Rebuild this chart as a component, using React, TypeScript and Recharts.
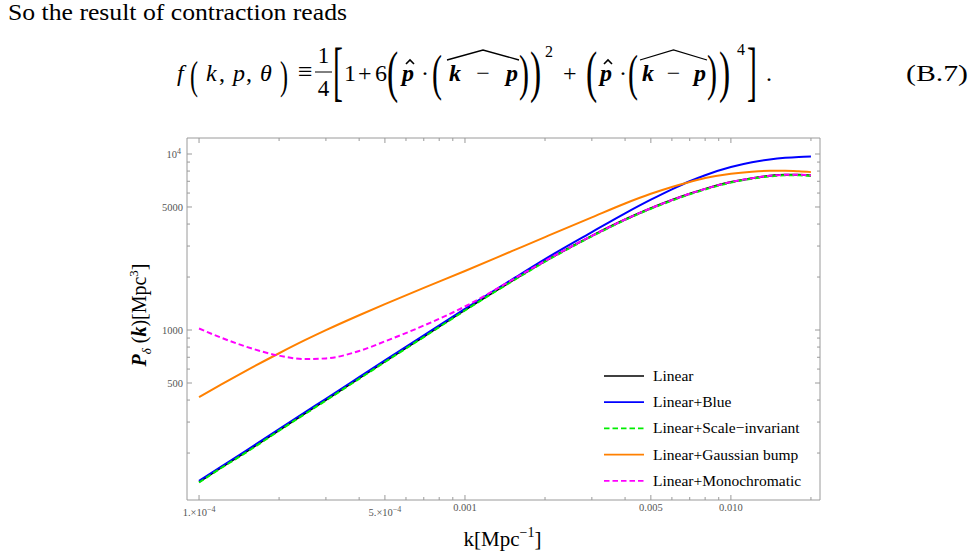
import React from 'react';
import { LineChart, Line, XAxis, YAxis, Legend } from 'recharts';

// Wavenumbers k [Mpc^-1] at which the spectra are sampled
const kValues = [
  1e-4, 1.2e-4, 1.5e-4, 2e-4, 2.5e-4, 3e-4, 4e-4, 5e-4, 7e-4, 1e-3, 1.5e-3, 2e-3,
  3e-3, 4e-3, 5e-3, 6e-3, 7e-3, 8e-3, 1e-2, 1.2e-2, 1.4e-2, 1.6e-2, 1.8e-2, 2e-2,
];

// Power spectra P_delta(k) [Mpc^3]
const linearP = [
  137, 164, 203, 270, 336, 401, 532, 663, 918, 1300, 1900, 2460,
  3430, 4245, 4920, 5475, 5945, 6335, 6930, 7290, 7520, 7620, 7620, 7560,
];
const blueP = [
  139, 166, 206, 274, 341, 407, 540, 673, 932, 1320, 1935, 2530,
  3600, 4600, 5500, 6300, 7000, 7580, 8430, 8980, 9320, 9520, 9630, 9680,
];
const scaleInvariantP = [
  136, 163, 201, 268, 333, 398, 528, 658, 912, 1291, 1887, 2443,
  3407, 4216, 4886, 5437, 5904, 6291, 6882, 7240, 7468, 7567, 7567, 7507,
];
const gaussianBumpP = [
  416, 486, 586, 738, 875, 998, 1213, 1403, 1734, 2163, 2805, 3373,
  4368, 5236, 5943, 6500, 6940, 7300, 7730, 7940, 8030, 8040, 7980, 7890,
];
const monochromaticP = [
  1020, 910, 805, 715, 684, 690, 760, 862, 1060, 1360, 1920, 2470,
  3430, 4245, 4920, 5475, 5945, 6335, 6930, 7290, 7520, 7620, 7620, 7560,
];

// Axis ticks
const xTicks = [
  1e-4, 2e-4, 3e-4, 4e-4, 5e-4, 6e-4, 7e-4, 8e-4, 9e-4,
  1e-3, 2e-3, 3e-3, 4e-3, 5e-3, 6e-3, 7e-3, 8e-3, 9e-3, 1e-2, 2e-2,
];
const xMajor = [1e-4, 5e-4, 1e-3, 5e-3, 1e-2];
const xMajorLabels = ['1.\u00d710', '5.\u00d710', '0.001', '0.005', '0.010'];
const xMajorExponents = ['\u22124', '\u22124', '', '', ''];

const yTicks = [
  200, 300, 400, 500, 600, 700, 800, 900, 1000,
  2000, 3000, 4000, 5000, 6000, 7000, 8000, 9000, 10000,
];
const yMajor = [500, 1000, 5000, 10000];
const yMajorLabels = ['500', '1000', '5000', '10'];
const yMajorExponents = ['', '', '', '4'];

const series = [
  { key: 'linear', name: 'Linear', color: '#000000', dash: undefined },
  { key: 'blue', name: 'Linear+Blue', color: '#0000ff', dash: undefined },
  { key: 'scaleInvariant', name: 'Linear+Scale\u2212invariant', color: '#00ee00', dash: '5.5 3' },
  { key: 'gaussianBump', name: 'Linear+Gaussian bump', color: '#ff8000', dash: undefined },
  { key: 'monochromatic', name: 'Linear+Monochromatic', color: '#ff00ff', dash: '5.5 3' },
];

const data = kValues.map((k, i) => ({
  k,
  linear: linearP[i],
  blue: blueP[i],
  scaleInvariant: scaleInvariantP[i],
  gaussianBump: gaussianBumpP[i],
  monochromatic: monochromaticP[i],
}));

const xDomain = [9.01e-5, 0.02163];
const yDomain = [108.2, 12330];

const FRAME = '#9a9a9a';
const TICK_TEXT = '#555555';
const SERIF = "'Liberation Serif', 'Times New Roman', serif";

const findMajor = (v: number, list: number[]) =>
  list.findIndex((t) => Math.abs(Math.log10(v) - Math.log10(t)) < 1e-6);

const BottomTick = (props: any) => {
  const { x, y, payload } = props;
  const idx = findMajor(payload.value, xMajor);
  const len = idx >= 0 ? 5 : 3;
  return (
    <g>
      <line x1={x} x2={x} y1={y} y2={y - len} stroke={FRAME} strokeWidth={1} />
      {idx >= 0 && (
        <text
          x={x}
          y={xMajorExponents[idx] ? y + 16 : y + 11}
          textAnchor="middle"
          fontSize={10.5}
          fontFamily={SERIF}
          fill={TICK_TEXT}
        >
          {xMajorLabels[idx]}
          {xMajorExponents[idx] && (
            <tspan dy={-4.5} fontSize={8}>
              {xMajorExponents[idx]}
            </tspan>
          )}
        </text>
      )}
    </g>
  );
};

const TopTick = (props: any) => {
  const { x, y, payload } = props;
  const idx = findMajor(payload.value, xMajor);
  const len = idx >= 0 ? 5 : 3;
  return <line x1={x} x2={x} y1={y} y2={y + len} stroke={FRAME} strokeWidth={1} />;
};

const LeftTick = (props: any) => {
  const { x, y, payload } = props;
  const idx = findMajor(payload.value, yMajor);
  const len = idx >= 0 ? 5 : 3;
  return (
    <g>
      <line x1={x} x2={x + len} y1={y} y2={y} stroke={FRAME} strokeWidth={1} />
      {idx >= 0 && (
        <text
          x={yMajorExponents[idx] ? x - 10 : x - 4}
          y={y + 4}
          textAnchor="end"
          fontSize={10.5}
          fontFamily={SERIF}
          fill={TICK_TEXT}
        >
          {yMajorLabels[idx]}
        </text>
      )}
      {idx >= 0 && yMajorExponents[idx] && (
        <text x={x - 10} y={y} textAnchor="start" fontSize={8} fontFamily={SERIF} fill={TICK_TEXT}>
          {yMajorExponents[idx]}
        </text>
      )}
    </g>
  );
};

const RightTick = (props: any) => {
  const { x, y, payload } = props;
  const idx = findMajor(payload.value, yMajor);
  const len = idx >= 0 ? 5 : 3;
  return <line x1={x} x2={x - len} y1={y} y2={y} stroke={FRAME} strokeWidth={1} />;
};

const YTitle = (props: any) => {
  const { viewBox } = props;
  const cx = viewBox.x + 19;
  const cy = viewBox.y + viewBox.height / 2 - 4;
  return (
    <text
      x={cx}
      y={cy}
      transform={`rotate(-90 ${cx} ${cy})`}
      textAnchor="middle"
      fontSize={20}
      fontFamily={SERIF}
      fill="#000"
    >
      <tspan fontWeight="bold" fontStyle="italic">P</tspan>
      <tspan fontStyle="italic" fontSize={13} dy={5}>{'\u03b4'}</tspan>
      <tspan dy={-5}>{' ('}</tspan>
      <tspan fontStyle="italic" fontWeight="bold">k</tspan>
      <tspan>)[Mpc</tspan>
      <tspan fontSize={13} dy={-8}>3</tspan>
      <tspan dy={8}>]</tspan>
    </text>
  );
};

const XTitle = (props: any) => {
  const { viewBox } = props;
  const cx = viewBox.x + viewBox.width / 2 - 1;
  return (
    <text x={cx} y={viewBox.y + 46} textAnchor="middle" fontSize={21} fontFamily={SERIF} fill="#000">
      k[Mpc
      <tspan fontSize={14} dy={-9}>{'\u22121'}</tspan>
      <tspan dy={9}>]</tspan>
    </text>
  );
};

const LegendBox = () => (
  <svg width={220} height={132}>
    {series.map((s, i) => {
      const cy = 13 + i * 26.2;
      return (
        <g key={s.key}>
          <line x1={4} x2={44} y1={cy} y2={cy} stroke={s.color} strokeWidth={1.7} strokeDasharray={s.dash} />
          <text x={53} y={cy + 5} fontSize={15.5} fontFamily={SERIF} fill="#000">
            {s.name}
          </text>
        </g>
      );
    })}
  </svg>
);

const EQ = 24;

const Glyph = ({ x, y, children, italic, bold, size = EQ, anchor }: any) => (
  <text
    x={x}
    y={y}
    fontSize={size}
    fontFamily={SERIF}
    fontStyle={italic ? 'italic' : undefined}
    fontWeight={bold ? 'bold' : undefined}
    textAnchor={anchor}
    fill="#000"
  >
    {children}
  </text>
);

// Tall delimiter, narrowed horizontally so it keeps a TeX-like width
const Delim = ({ ch, x, y, size, sx = 0.6 }: any) => (
  <text x={0} y={0} transform={`translate(${x} ${y}) scale(${sx} 1)`} fontSize={size} fontFamily={SERIF} fill="#000">
    {ch}
  </text>
);

const Header = () => {
  const B = 81;
  const pHat = (x: number) => (
    <g>
      <Glyph x={x} y={B} italic bold>p</Glyph>
      <path
        d={`M ${x + 4} ${B - 17} L ${x + 8} ${B - 21} L ${x + 12} ${B - 17}`}
        stroke="#000"
        strokeWidth={1.6}
        fill="none"
      />
    </g>
  );
  const kMinusP = (x: number, w: number) => (
    <g>
      <path
        d={`M ${x} ${B - 21} L ${x + w / 2} ${B - 31} L ${x + w} ${B - 21}`}
        stroke="#000"
        strokeWidth={1.3}
        fill="none"
      />
      <Glyph x={x + 2} y={B} italic bold>k</Glyph>
      <Glyph x={x + w / 2} y={B} anchor="middle">{'\u2212'}</Glyph>
      <Glyph x={x + w - 13} y={B} italic bold>p</Glyph>
    </g>
  );
  return (
    <svg width={977} height={115} style={{ position: 'absolute', left: 0, top: 0 }}>
      <text x={8} y={20} fontSize={22.5} fontFamily={SERIF} textLength={339} lengthAdjust="spacingAndGlyphs">
        So the result of contraction reads
      </text>
      {/* f(k, p, θ) */}
      <Glyph x={177} y={B} italic>f</Glyph>
      <Delim ch="(" x={190} y={89} size={40} />
      <Glyph x={206} y={B} italic>k</Glyph>
      <Glyph x={219} y={B}>,</Glyph>
      <Glyph x={233} y={B} italic>p</Glyph>
      <Glyph x={246} y={B}>,</Glyph>
      <Glyph x={260} y={B} italic>{'\u03b8'}</Glyph>
      <Delim ch=")" x={280} y={89} size={40} />
      <Glyph x={298} y={B - 1} size={26}>{'\u2261'}</Glyph>
      {/* 1/4 */}
      <Glyph x={323.5} y={63} size={23} anchor="middle">1</Glyph>
      <line x1={315} x2={332} y1={72} y2={72} stroke="#000" strokeWidth={1} />
      <Glyph x={323.5} y={96} size={23} anchor="middle">4</Glyph>
      {/* bracketed sum */}
      <Delim ch="[" x={333} y={93} size={66} sx={0.45} />
      <Glyph x={344} y={B}>1</Glyph>
      <Glyph x={358} y={B}>+</Glyph>
      <Glyph x={375} y={B}>6</Glyph>
      <Delim ch="(" x={387} y={91} size={56} />
      {pHat(402)}
      <Glyph x={421} y={B}>{'\u00b7'}</Glyph>
      <Delim ch="(" x={432} y={90} size={50} />
      {kMinusP(447, 72)}
      <Delim ch=")" x={519} y={90} size={50} />
      <Delim ch=")" x={530} y={91} size={56} />
      <Glyph x={545} y={57} size={16}>2</Glyph>
      <Glyph x={563} y={B}>+</Glyph>
      <Delim ch="(" x={586} y={91} size={56} />
      {pHat(600)}
      <Glyph x={619} y={B}>{'\u00b7'}</Glyph>
      <Delim ch="(" x={628} y={90} size={50} />
      {kMinusP(640, 67)}
      <Delim ch=")" x={707} y={90} size={50} />
      <Delim ch=")" x={719} y={91} size={56} />
      <Glyph x={737} y={55} size={16}>4</Glyph>
      <Delim ch="]" x={747} y={93} size={66} sx={0.45} />
      <Glyph x={766} y={B}>.</Glyph>
      <text x={906} y={B} fontSize={EQ} fontFamily={SERIF} textLength={62} lengthAdjust="spacingAndGlyphs">
        (B.7)
      </text>
    </svg>
  );
};

export default function App() {
  return (
    <div style={{ position: 'absolute', left: 0, top: 0, width: 977, height: 558, background: '#fff' }}>
      <Header />
      <div style={{ position: 'absolute', left: 0, top: 0 }}>
        <LineChart
          width={977}
          height={558}
          data={data}
          margin={{ top: 128, right: 147, bottom: 28, left: 127 }}
        >
          <XAxis
            dataKey="k"
            type="number"
            scale="log"
            domain={xDomain}
            allowDataOverflow
            ticks={xTicks}
            interval={0}
            tick={<BottomTick />}
            tickLine={false}
            tickSize={0}
            tickMargin={0}
            axisLine={{ stroke: FRAME }}
            height={30}
            label={<XTitle />}
          />
          <XAxis
            xAxisId="top"
            orientation="top"
            dataKey="k"
            type="number"
            scale="log"
            domain={xDomain}
            allowDataOverflow
            ticks={xTicks}
            interval={0}
            tick={<TopTick />}
            tickLine={false}
            tickSize={0}
            tickMargin={0}
            axisLine={{ stroke: FRAME }}
            height={10}
          />
          <YAxis
            type="number"
            scale="log"
            domain={yDomain}
            allowDataOverflow
            ticks={yTicks}
            interval={0}
            tick={<LeftTick />}
            tickLine={false}
            tickSize={0}
            tickMargin={0}
            axisLine={{ stroke: FRAME }}
            width={60}
            label={<YTitle />}
          />
          <YAxis
            yAxisId="right"
            orientation="right"
            type="number"
            scale="log"
            domain={yDomain}
            allowDataOverflow
            ticks={yTicks}
            interval={0}
            tick={<RightTick />}
            tickLine={false}
            tickSize={0}
            tickMargin={0}
            axisLine={{ stroke: FRAME }}
            width={10}
          />
          <Legend
            layout="vertical"
            align="center"
            verticalAlign="middle"
            content={<LegendBox />}
            wrapperStyle={{ left: 600, top: 363, width: 220, height: 132 }}
          />
          {series.map((s) => (
            <Line
              key={s.key}
              dataKey={s.key}
              name={s.name}
              type="monotone"
              stroke={s.color}
              strokeWidth={2}
              strokeDasharray={s.dash}
              dot={false}
              activeDot={false}
              isAnimationActive={false}
            />
          ))}
        </LineChart>
      </div>
    </div>
  );
}
